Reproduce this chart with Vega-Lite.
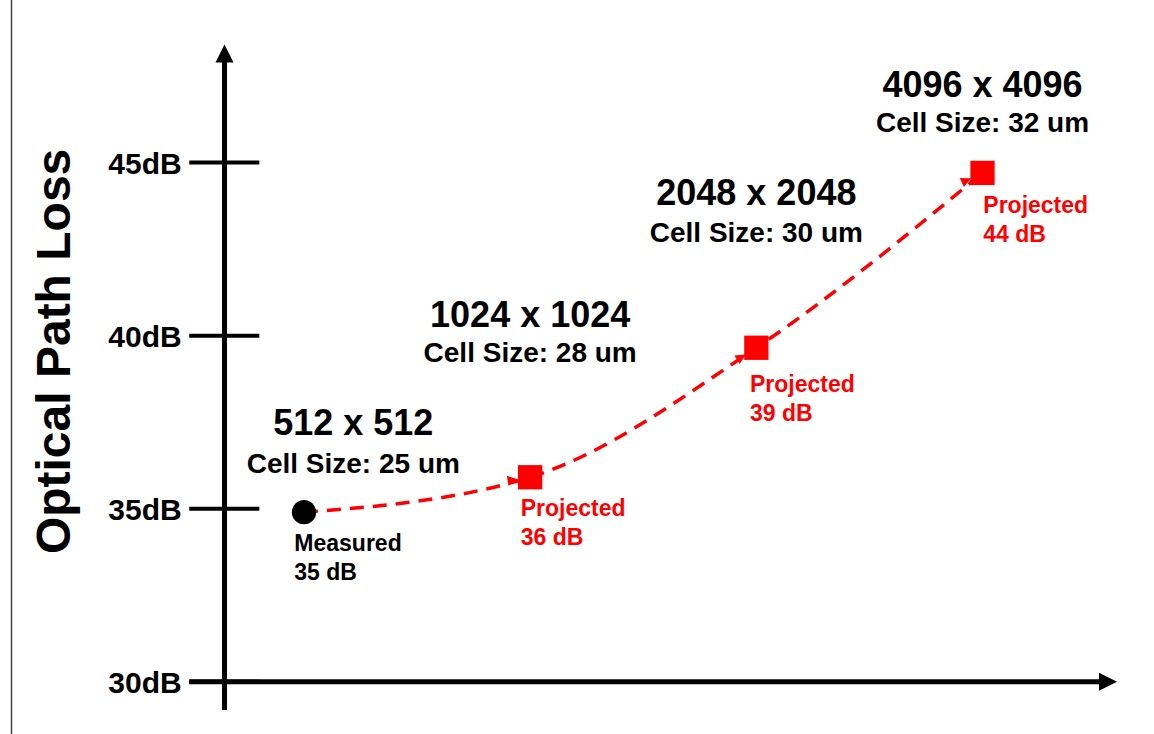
{
  "$schema": "https://vega.github.io/schema/vega-lite/v6.json",
  "width": 1154,
  "height": 734,
  "autosize": {"type": "none"},
  "padding": 0,
  "background": "white",
  "config": {"view": {"stroke": null}, "font": "Liberation Sans"},
  "datasets": {
    "series": [
      {"array_size": 512, "loss_db": 34.9, "status": "Measured"},
      {"array_size": 1024, "loss_db": 35.91, "status": "Projected"},
      {"array_size": 2048, "loss_db": 39.65, "status": "Projected"},
      {"array_size": 4096, "loss_db": 44.7, "status": "Projected"}
    ],
    "ticks": [
      {"loss_db": 30, "label": "30dB"},
      {"loss_db": 35, "label": "35dB"},
      {"loss_db": 40, "label": "40dB"},
      {"loss_db": 45, "label": "45dB"}
    ],
    "dims": [
      {"array_size": 595.5, "loss_db": 37.133, "label": "512 x 512"},
      {"array_size": 1024, "loss_db": 40.261, "label": "1024 x 1024"},
      {"array_size": 2048, "loss_db": 43.775, "label": "2048 x 2048"},
      {"array_size": 4096, "loss_db": 46.902, "label": "4096 x 4096"}
    ],
    "cells": [
      {"array_size": 595.5, "loss_db": 36.027, "label": "Cell Size: 25 um"},
      {"array_size": 1024, "loss_db": 39.25, "label": "Cell Size: 28 um"},
      {"array_size": 2048, "loss_db": 42.715, "label": "Cell Size: 30 um"},
      {"array_size": 4096, "loss_db": 45.892, "label": "Cell Size: 32 um"}
    ],
    "notes": [
      {"array_size": 497.0, "loss_db": 33.792, "status": "Measured", "label": "Measured\n35 dB"},
      {"array_size": 994.7, "loss_db": 34.794, "status": "Projected", "label": "Projected\n36 dB"},
      {"array_size": 2008.6, "loss_db": 38.375, "status": "Projected", "label": "Projected\n39 dB"},
      {"array_size": 4105.9, "loss_db": 43.535, "status": "Projected", "label": "Projected\n44 dB"}
    ]
  },
  "layer": [
    {
      "data": {"name": "ticks"},
      "mark": {"type": "rule", "color": "#000", "strokeWidth": 4},
      "encoding": {
        "x": {"datum": 360.2, "type": "quantitative", "scale": {"type": "log", "base": 2, "domain": [201.67, 6928.1], "nice": false, "zero": false}, "axis": null},
        "x2": {"datum": 446.5},
        "y": {"field": "loss_db", "type": "quantitative", "scale": {"domain": [28.494, 49.694], "nice": false, "zero": false}, "axis": null}
      }
    },
    {
      "data": {"name": "ticks"},
      "mark": {"type": "text", "font": "Liberation Sans", "fontWeight": "bold", "fontSize": 30, "align": "right", "baseline": "alphabetic", "dy": 11, "color": "#000"},
      "encoding": {
        "x": {"datum": 351.9, "type": "quantitative", "axis": null},
        "y": {"field": "loss_db", "type": "quantitative", "axis": null},
        "text": {"field": "label"}
      }
    },
    {
      "data": {"values": [{"title": "Optical Path Loss"}]},
      "mark": {"type": "text", "font": "Liberation Sans", "fontWeight": "bold", "fontSize": 48, "align": "center", "baseline": "alphabetic", "angle": 270, "color": "#000"},
      "encoding": {
        "x": {"datum": 249.6, "type": "quantitative", "axis": null},
        "y": {"datum": 39.544, "type": "quantitative", "axis": null},
        "text": {"field": "title"}
      }
    },
    {
      "data": {"values": [{}]},
      "mark": {"type": "rule", "color": "#444", "strokeWidth": 1.5},
      "encoding": {"x": {"datum": 208.9, "type": "quantitative", "axis": null}}
    },
    {
      "data": {"values": [{}]},
      "mark": {"type": "rule", "color": "#000", "strokeWidth": 5},
      "encoding": {
        "x": {"datum": 401.3, "type": "quantitative", "axis": null},
        "y": {"datum": 29.19, "type": "quantitative", "axis": null},
        "y2": {"datum": 48.1}
      }
    },
    {
      "data": {"values": [{}]},
      "mark": {"type": "rule", "color": "#000", "strokeWidth": 5},
      "encoding": {
        "x": {"datum": 360.2, "type": "quantitative", "axis": null},
        "x2": {"datum": 6000},
        "y": {"datum": 30, "type": "quantitative", "axis": null}
      }
    },
    {
      "data": {"values": [{}]},
      "mark": {"type": "point", "shape": "M0,-1L1,1L-1,1Z", "filled": true, "color": "#000", "size": 324, "opacity": 1},
      "encoding": {
        "x": {"datum": 401.3, "type": "quantitative", "axis": null},
        "y": {"datum": 48.15, "type": "quantitative", "axis": null}
      }
    },
    {
      "data": {"values": [{}]},
      "mark": {"type": "point", "shape": "M1,0L-1,-1L-1,1Z", "filled": true, "color": "#000", "size": 324, "opacity": 1},
      "encoding": {
        "x": {"datum": 6017.5, "type": "quantitative", "axis": null},
        "y": {"datum": 30, "type": "quantitative", "axis": null}
      }
    },
    {
      "data": {"name": "series"},
      "mark": {"type": "line", "color": "#ff0000", "strokeWidth": 3.5, "strokeDash": [14, 9], "interpolate": "monotone"},
      "encoding": {
        "x": {"field": "array_size", "type": "quantitative", "axis": null},
        "y": {"field": "loss_db", "type": "quantitative", "axis": null}
      }
    },
    {
      "data": {"name": "series"},
      "transform": [{"filter": "datum.array_size == 1024"}],
      "mark": {"type": "point", "shape": "M-1.05,0L-1.9,-0.42L-1.9,0.42Z", "filled": true, "color": "#ff0000", "size": 576, "opacity": 1, "angle": -9},
      "encoding": {
        "x": {"field": "array_size", "type": "quantitative", "axis": null},
        "y": {"field": "loss_db", "type": "quantitative", "axis": null}
      }
    },
    {
      "data": {"name": "series"},
      "transform": [{"filter": "datum.array_size == 2048"}],
      "mark": {"type": "point", "shape": "M-1.05,0L-1.9,-0.42L-1.9,0.42Z", "filled": true, "color": "#ff0000", "size": 576, "opacity": 1, "angle": -32},
      "encoding": {
        "x": {"field": "array_size", "type": "quantitative", "axis": null},
        "y": {"field": "loss_db", "type": "quantitative", "axis": null}
      }
    },
    {
      "data": {"name": "series"},
      "transform": [{"filter": "datum.array_size == 4096"}],
      "mark": {"type": "point", "shape": "M-1.05,0L-1.9,-0.42L-1.9,0.42Z", "filled": true, "color": "#ff0000", "size": 576, "opacity": 1, "angle": -25},
      "encoding": {
        "x": {"field": "array_size", "type": "quantitative", "axis": null},
        "y": {"field": "loss_db", "type": "quantitative", "axis": null}
      }
    },
    {
      "data": {"name": "series"},
      "mark": {"type": "point", "filled": true, "size": 590, "opacity": 1, "strokeWidth": 0},
      "encoding": {
        "x": {"field": "array_size", "type": "quantitative", "axis": null},
        "y": {"field": "loss_db", "type": "quantitative", "axis": null},
        "shape": {"field": "status", "type": "nominal", "scale": {"domain": ["Measured", "Projected"], "range": ["circle", "square"]}, "legend": null},
        "color": {"field": "status", "type": "nominal", "scale": {"domain": ["Measured", "Projected"], "range": ["#000000", "#ff0000"]}, "legend": null}
      }
    },
    {
      "data": {"name": "dims"},
      "mark": {"type": "text", "font": "Liberation Sans", "fontWeight": "bold", "fontSize": 36, "align": "center", "baseline": "alphabetic", "color": "#000"},
      "encoding": {
        "x": {"field": "array_size", "type": "quantitative", "axis": null},
        "y": {"field": "loss_db", "type": "quantitative", "axis": null},
        "text": {"field": "label"}
      }
    },
    {
      "data": {"name": "cells"},
      "mark": {"type": "text", "font": "Liberation Sans", "fontWeight": "bold", "fontSize": 28, "align": "center", "baseline": "alphabetic", "color": "#000"},
      "encoding": {
        "x": {"field": "array_size", "type": "quantitative", "axis": null},
        "y": {"field": "loss_db", "type": "quantitative", "axis": null},
        "text": {"field": "label"}
      }
    },
    {
      "data": {"name": "notes"},
      "mark": {"type": "text", "font": "Liberation Sans", "fontWeight": "bold", "fontSize": 23, "align": "left", "baseline": "alphabetic", "lineBreak": "\n", "lineHeight": 29},
      "encoding": {
        "x": {"field": "array_size", "type": "quantitative", "axis": null},
        "y": {"field": "loss_db", "type": "quantitative", "axis": null},
        "text": {"field": "label"},
        "color": {"field": "status", "type": "nominal", "scale": {"domain": ["Measured", "Projected"], "range": ["#000000", "#ff0000"]}, "legend": null}
      }
    }
  ]
}
